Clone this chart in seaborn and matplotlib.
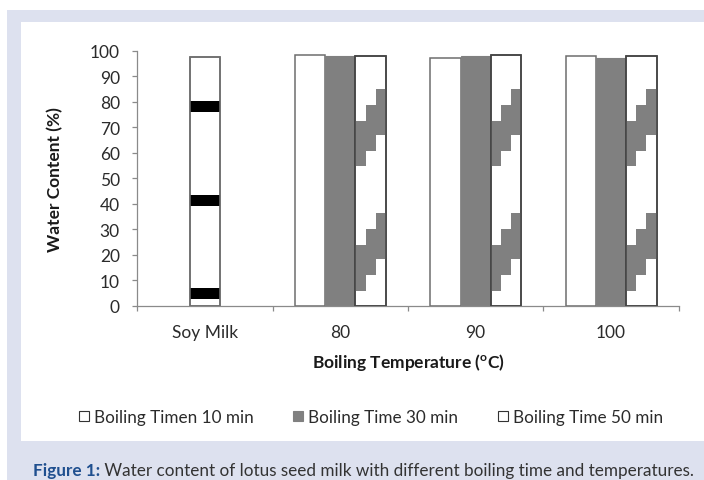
import numpy as np
import pandas as pd
import seaborn as sns
import matplotlib.pyplot as plt
from matplotlib.patches import Rectangle
from matplotlib.lines import Line2D

categories = ["Soy Milk", "80", "90", "100"]
series = ["Boiling Timen 10 min", "Boiling Time 30 min", "Boiling Time 50 min"]

# soy milk has a single value, it sits in the middle slot of its group
soy_milk = [97.4]
time_10 = [98.3, 97.1, 97.8]
time_30 = [97.8, 97.9, 97.1]
time_50 = [98.0, 98.3, 97.9]

yticks = list(range(0, 101, 10))
caption_head = "Figure 1:"
caption_text = " Water content of lotus seed milk with different boiling time and temperatures."

rows = [("Soy Milk", series[1], soy_milk[0])]
for cat, a, b, c in zip(categories[1:], time_10, time_30, time_50):
    rows.append((cat, series[0], a))
    rows.append((cat, series[1], b))
    rows.append((cat, series[2], c))
df = pd.DataFrame(rows, columns=["temp", "time", "water"])

sns.set_theme(style="white")
plt.rcParams["font.family"] = ["Lato", "DejaVu Sans"]
plt.rcParams["mathtext.fontset"] = "custom"
plt.rcParams["mathtext.rm"] = "Lato"
plt.rcParams["mathtext.bf"] = "Lato:bold"

W, H = 704, 481
fig = plt.figure(figsize=(W / 100, H / 100), dpi=100)
fig.patch.set_facecolor("white")

# page frame: lavender band with white panel on top
band = "#dde1ef"
fig.patches.append(Rectangle((7 / W, 0), 1, 1 - 11 / H, transform=fig.transFigure,
                             facecolor=band, edgecolor="none", zorder=-2))
fig.patches.append(Rectangle((21 / W, 1 - 442 / H), 1, (442 - 23) / H, transform=fig.transFigure,
                             facecolor="white", edgecolor="none", zorder=-1))

ax = fig.add_axes([137.3 / W, 1 - 307 / H, (678.7 - 137.3) / W, (307 - 51.5) / H])
ax.patch.set_alpha(0)

sns.barplot(data=df, x="temp", y="water", hue="time", order=categories, hue_order=series,
            width=0.672, palette=["white", "#808080", "white"], saturation=1,
            errorbar=None, legend=False, ax=ax)

gray = "#808080"
for cont, name in zip(ax.containers, series):
    for p in cont:
        x0, w, h = p.get_x(), p.get_width(), p.get_height()
        is_soy = abs(x0 + w / 2) < 0.2
        if name == series[1] and not is_soy:
            p.set_facecolor(gray)
            p.set_edgecolor(gray)
            p.set_linewidth(0.8)
        elif is_soy:
            p.set_facecolor("white")
            p.set_edgecolor("#6e6e6e")
            p.set_linewidth(1.1)
            # horizontal black band pattern
            for y in np.arange(2.7, h, 36.6):
                r = Rectangle((x0, y), w, 4.3, facecolor="black", edgecolor="none", zorder=3)
                ax.add_patch(r)
                r.set_clip_path(p)
            ax.add_patch(Rectangle((x0, 0), w, h, facecolor="none", edgecolor="#6e6e6e",
                                   linewidth=1.1, zorder=4))
        elif name == series[0]:
            p.set_facecolor("white")
            p.set_edgecolor("#6e6e6e")
            p.set_linewidth(1.1)
        else:
            p.set_facecolor("white")
            p.set_edgecolor("#444444")
            p.set_linewidth(1.1)
            # stepped upward diagonal pattern
            ncol, step, thick, period, phase = 3, 6.2, 18, 48.6, 6.0
            for k in range(-1, 3):
                for j in range(ncol):
                    r = Rectangle((x0 + j * w / ncol, phase + k * period + j * step), w / ncol,
                                  thick, facecolor=gray, edgecolor="none", zorder=3)
                    ax.add_patch(r)
                    r.set_clip_path(p)
            ax.add_patch(Rectangle((x0, 0), w, h, facecolor="none", edgecolor="#444444",
                                   linewidth=1.1, zorder=4))

ax.set_xlim(-0.5, len(categories) - 0.5)
ax.set_ylim(0, 100)
ax.set_yticks(yticks)
ax.set_xticks(range(len(categories)))
ax.set_xticklabels(categories)
ax.set_xticks(np.arange(-0.5, len(categories), 1), minor=True)

axis_gray = "#8a8a8a"
for side in ["top", "right"]:
    ax.spines[side].set_visible(False)
for side in ["left", "bottom"]:
    ax.spines[side].set_color(axis_gray)
    ax.spines[side].set_linewidth(0.9)

ax.tick_params(axis="y", left=True, length=3.6, width=0.9, color=axis_gray, pad=9,
               labelsize=12.5, labelcolor="#2b2b2b")
ax.tick_params(axis="x", which="major", bottom=True, length=0, pad=13,
               labelsize=12.5, labelcolor="#2b2b2b")
ax.tick_params(axis="x", which="minor", bottom=True, length=3.6, width=0.9, color=axis_gray)

ax.set_xlabel(r"Boiling Temperature ($^\mathbf{o}$C)", fontsize=12.5, fontweight="bold",
              color="#1a1a1a", labelpad=8)
ax.set_ylabel("Water Content (%)", fontsize=12.5, fontweight="bold", color="#1a1a1a",
              labelpad=19)

handles = [
    Line2D([], [], marker="s", ls="none", markersize=7, markerfacecolor="white",
           markeredgecolor="#333333", markeredgewidth=0.8),
    Line2D([], [], marker="s", ls="none", markersize=7, markerfacecolor=gray,
           markeredgecolor=gray, markeredgewidth=0.8),
    Line2D([], [], marker="s", ls="none", markersize=7, markerfacecolor="white",
           markeredgecolor="#333333", markeredgewidth=0.8),
]
fig.legend(handles, series, loc="center", bbox_to_anchor=(371 / W, 1 - 417.7 / H), ncol=3,
           frameon=False, fontsize=12.3, handlelength=0.6, handletextpad=0.3,
           columnspacing=2.3, labelcolor="#2b2b2b")

# caption, fitted to the width of the band
cap_y = 1 - 471 / H
fs = 12
t1 = fig.text(33 / W, cap_y, caption_head, fontsize=fs, fontweight="bold", color="#1f4f8f",
              va="center", ha="left")
t2 = fig.text(0, cap_y, caption_text, fontsize=fs, color="#333333", va="center", ha="left")
r = fig.canvas.get_renderer()
total = t1.get_window_extent(r).width + t2.get_window_extent(r).width
fs = fs * 656 / total
t1.set_fontsize(fs)
t2.set_fontsize(fs)
e1 = t1.get_window_extent(r)
t2.set_x(e1.x1 / W)

fig.savefig("out.png", dpi=100)
